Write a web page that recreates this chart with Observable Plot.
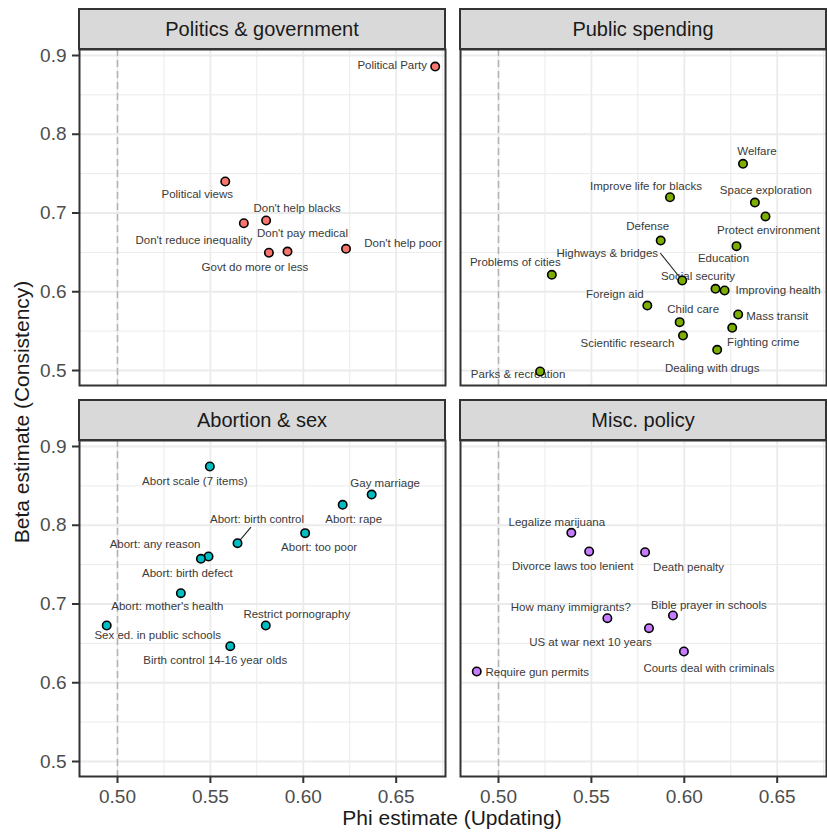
<!DOCTYPE html>
<html>
<head>
<meta charset="utf-8">
<script src="https://cdn.jsdelivr.net/npm/d3@7"></script>
<script src="https://cdn.jsdelivr.net/npm/@observablehq/plot@0.6"></script>
<style>
  body { margin: 0; background: #fff; font-family: "Liberation Sans", Arial, sans-serif; }
  #chart { position: relative; width: 827px; height: 834px; overflow: hidden; background: #fff; }
  #chart svg { position: absolute; left: 0; top: 0; }
  .strip {
    position: absolute; box-sizing: border-box; height: 42px;
    background: #d9d9d9; border: 2px solid #333;
    display: flex; align-items: center; justify-content: center;
    font-size: 20px; color: #1a1a1a; white-space: nowrap;
  }
  .axis-title { position: absolute; font-size: 21px; color: #1a1a1a; white-space: nowrap; }
</style>
</head>
<body>
<div id="chart"></div>
<script>
// GSS attitude items: updating (phi) vs. consistency (beta) estimates, by topic.
const facets = ["Politics & government", "Public spending", "Abortion & sex", "Misc. policy"];
const facetColors = ["#F8766D", "#7CAE00", "#00BFC4", "#C77CFF"];

const politicsItems = ["Political Party", "Political views", "Don't reduce inequality", "Don't help blacks",
  "Don't pay medical", "Govt do more or less", "Don't help poor"];
const politicsPhi  = [0.671, 0.558, 0.568, 0.580, 0.5915, 0.5815, 0.623];
const politicsBeta = [0.886, 0.740, 0.687, 0.6905, 0.651, 0.6495, 0.6545];

const spendingItems = ["Welfare", "Improve life for blacks", "Space exploration", "Protect environment",
  "Education", "Defense", "Highways & bridges", "Problems of cities", "Social security", "Improving health",
  "Foreign aid", "Child care", "Scientific research", "Mass transit", "Fighting crime", "Dealing with drugs",
  "Parks & recreation"];
const spendingPhi  = [0.6316, 0.5923, 0.638, 0.6437, 0.6281, 0.5873, 0.5989, 0.5287, 0.6168, 0.6217,
  0.5801, 0.5975, 0.5993, 0.629, 0.6258, 0.6177, 0.5224];
const spendingBeta = [0.7625, 0.720, 0.7133, 0.6956, 0.6579, 0.665, 0.6143, 0.6215, 0.6037, 0.6016,
  0.5825, 0.5614, 0.5444, 0.5711, 0.5542, 0.5263, 0.4987];

const abortionItems = ["Abort scale (7 items)", "Gay marriage", "Abort: rape", "Abort: birth control",
  "Abort: too poor", "Abort: any reason", "Abort: birth defect", "Abort: mother's health",
  "Sex ed. in public schools", "Restrict pornography", "Birth control 14-16 year olds"];
const abortionPhi  = [0.5497, 0.6368, 0.6212, 0.5646, 0.601, 0.549, 0.5449, 0.5341, 0.4942, 0.5798, 0.5607];
const abortionBeta = [0.8746, 0.839, 0.826, 0.7772, 0.790, 0.7603, 0.7574, 0.7137, 0.6727, 0.6727, 0.6464];

const miscItems = ["Legalize marijuana", "Divorce laws too lenient", "Death penalty", "How many immigrants?",
  "Bible prayer in schools", "US at war next 10 years", "Courts deal with criminals", "Require gun permits"];
const miscPhi  = [0.5392, 0.5488, 0.5789, 0.5586, 0.5939, 0.581, 0.5998, 0.4883];
const miscBeta = [0.7904, 0.7667, 0.7658, 0.682, 0.6854, 0.6693, 0.6397, 0.6143];

const xTicks = [0.50, 0.55, 0.60, 0.65];
const xMinorTicks = [0.525, 0.575, 0.625, 0.675];
const yTicks = [0.5, 0.6, 0.7, 0.8, 0.9];
const yMinorTicks = [0.55, 0.65, 0.75, 0.85];

// Repelled label placement (pixel offset of the label centre from its point).
const labelOffsets = {
  "Political Party": [-43, -1.5], "Political views": [-28, 13], "Don't reduce inequality": [-50, 17],
  "Don't help blacks": [31, -12], "Don't pay medical": [15, -18], "Govt do more or less": [-14, 14.5],
  "Don't help poor": [57, -5.5],
  "Welfare": [14, -12], "Improve life for blacks": [-24, -11], "Space exploration": [11, -12],
  "Protect environment": [3, 14], "Education": [-13, 12.5], "Defense": [-13, -14],
  "Highways & bridges": [-75, -27.5], "Problems of cities": [-36.5, -12.5], "Social security": [-17.5, -12.5],
  "Improving health": [53.5, 0], "Foreign aid": [-32.5, -11.5], "Child care": [13.5, -12.5],
  "Scientific research": [-55.5, 7.5], "Mass transit": [39, 1.5], "Fighting crime": [31, 14.5],
  "Dealing with drugs": [-5, 19], "Parks & recreation": [-22, 2.5],
  "Abort scale (7 items)": [-15, 14.5], "Gay marriage": [13.5, -11.5], "Abort: rape": [11, 15],
  "Abort: birth control": [19.5, -23.5], "Abort: too poor": [14, 14.5], "Abort: any reason": [-53.5, -12.5],
  "Abort: birth defect": [-13.5, 14.5], "Abort: mother's health": [-13.5, 13.5],
  "Sex ed. in public schools": [51, 9.5], "Restrict pornography": [31, -11.5],
  "Birth control 14-16 year olds": [-15, 14.5],
  "Legalize marijuana": [-14.5, -10.5], "Divorce laws too lenient": [-16.5, 15], "Death penalty": [43.5, 15],
  "How many immigrants?": [-36.5, -11], "Bible prayer in schools": [36, -10.5],
  "US at war next 10 years": [-58.5, 14], "Courts deal with criminals": [25, 16.5],
  "Require gun permits": [60.5, 0.5]
};
// Leader lines for labels pushed away from their points (pixel end relative to point).
const leaderEnds = { "Highways & bridges": [-22, -27.5], "Abort: birth control": [13.5, -16] };

// Panel geometry
const W = 827, H = 834, PANEL_W = 366, PANEL_H = 336;
const COLS = [79, 460], ROWS = [49, 440];
const xDomain = [0.47955, 0.47955 + 0.19699];
const yDomain = [0.48095, 0.90762];
const PX_X = PANEL_W / (xDomain[1] - xDomain[0]);
const PX_Y = PANEL_H / (yDomain[1] - yDomain[0]);
const FONT = '"Liberation Sans", Arial, sans-serif';

const panels = [
  {items: politicsItems, phi: politicsPhi, beta: politicsBeta},
  {items: spendingItems, phi: spendingPhi, beta: spendingBeta},
  {items: abortionItems, phi: abortionPhi, beta: abortionBeta},
  {items: miscItems, phi: miscPhi, beta: miscBeta}
];

const chart = document.getElementById("chart");

panels.forEach((p, k) => {
  const col = k % 2, row = Math.floor(k / 2);
  const x0 = COLS[col], y0 = ROWS[row];
  const data = p.items.map((name, i) => ({name, phi: p.phi[i], beta: p.beta[i]}));

  const marks = [
    Plot.gridX(xMinorTicks, {stroke: "#ebebeb", strokeOpacity: 1, strokeWidth: 1}),
    Plot.gridY(yMinorTicks, {stroke: "#ebebeb", strokeOpacity: 1, strokeWidth: 1}),
    Plot.gridX(xTicks, {stroke: "#ebebeb", strokeOpacity: 1, strokeWidth: 1.8}),
    Plot.gridY(yTicks, {stroke: "#ebebeb", strokeOpacity: 1, strokeWidth: 1.8}),
    Plot.ruleX([0.5], {stroke: "#b3b3b3", strokeWidth: 1.5, strokeDasharray: "7,4"})
  ];

  data.filter(d => leaderEnds[d.name]).forEach(d => {
    const [ex, ey] = leaderEnds[d.name];
    marks.push(Plot.link([d], {
      x1: "phi", y1: "beta",
      x2: v => v.phi + ex / PX_X, y2: v => v.beta - ey / PX_Y,
      stroke: "#222", strokeWidth: 1.1
    }));
  });

  data.forEach(d => {
    const [dx, dy] = labelOffsets[d.name] || [0, -12];
    marks.push(Plot.text([d], {
      x: "phi", y: "beta", text: "name", dx, dy,
      fontSize: 11.5, fill: "#3a3a3a", fontFamily: FONT
    }));
  });

  marks.push(Plot.dot(data, {x: "phi", y: "beta", r: 4.2, fill: facetColors[k], stroke: "#000", strokeWidth: 1.6}));
  marks.push(Plot.frame({stroke: "#333", strokeWidth: 2}));

  if (col === 0) marks.push(Plot.axisY(yTicks, {
    tickSize: 7, tickPadding: 6, tickFormat: d3.format(".1f"), stroke: "#333", strokeWidth: 2,
    fill: "#4d4d4d", fontSize: 19, label: null
  }));
  if (row === 1) marks.push(Plot.axisX(xTicks, {
    tickSize: 7, tickPadding: 6, tickFormat: d3.format(".2f"), stroke: "#333", strokeWidth: 2,
    fill: "#4d4d4d", fontSize: 19, label: null
  }));

  const svg = Plot.plot({
    width: W, height: H,
    marginLeft: x0, marginTop: y0,
    marginRight: W - x0 - PANEL_W, marginBottom: H - y0 - PANEL_H,
    x: {domain: xDomain, axis: row === 1 ? undefined : null, label: null},
    y: {domain: yDomain, axis: col === 0 ? undefined : null, label: null},
    style: {background: "transparent", fontFamily: FONT, fontSize: "19px", overflow: "visible"},
    marks
  });
  chart.appendChild(svg);

  const strip = document.createElement("div");
  strip.className = "strip";
  strip.style.left = (x0 - 1) + "px";
  strip.style.top = (y0 - 41) + "px";
  strip.style.width = (PANEL_W + 2) + "px";
  strip.textContent = facets[k];
  chart.appendChild(strip);
});

const xTitle = document.createElement("div");
xTitle.className = "axis-title";
xTitle.textContent = "Phi estimate (Updating)";
xTitle.style.left = "452px";
xTitle.style.top = "818px";
xTitle.style.transform = "translate(-50%, -50%)";
chart.appendChild(xTitle);

const yTitle = document.createElement("div");
yTitle.className = "axis-title";
yTitle.textContent = "Beta estimate (Consistency)";
yTitle.style.left = "22px";
yTitle.style.top = "412px";
yTitle.style.transform = "translate(-50%, -50%) rotate(-90deg)";
chart.appendChild(yTitle);
</script>
</body>
</html>
